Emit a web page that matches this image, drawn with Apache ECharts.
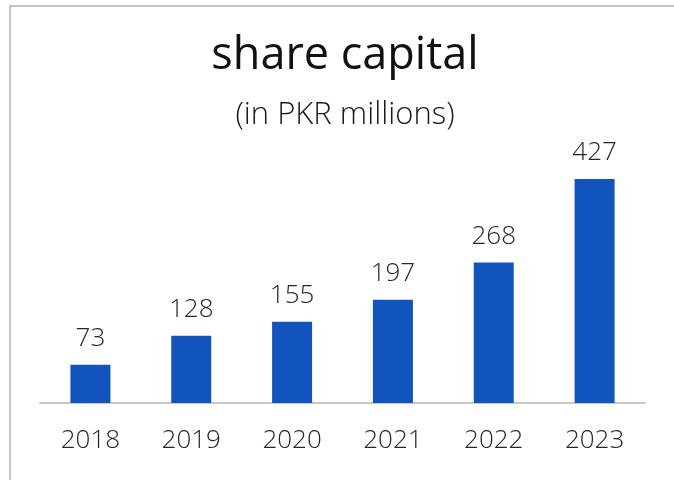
<!DOCTYPE html>
<html>
<head>
<meta charset="utf-8">
<script src="https://cdn.jsdelivr.net/npm/echarts@6/dist/echarts.min.js"></script>
<style>
  html, body { margin: 0; padding: 0; background: #fff; }
  #chart { width: 674px; height: 480px; }
</style>
</head>
<body>
<div id="chart"></div>
<script>
// data
const years = ['2018', '2019', '2020', '2021', '2022', '2023']
const shareCapital = [73, 128, 155, 197, 268, 427]

const chart = echarts.init(document.getElementById('chart'))

const option = {
  animation: false,
  textStyle: { fontFamily: 'Open Sans' },
  title: [
    {
      text: 'share capital',
      left: 340,
      top: 29,
      textAlign: 'center',
      textStyle: { fontSize: 45, fontWeight: 'normal', color: '#111', fontFamily: 'Open Sans' }
    },
    {
      text: '(in PKR millions)',
      left: 340,
      top: 95,
      textAlign: 'center',
      textStyle: { fontSize: 31, fontWeight: 300, color: '#1a1a1a', fontFamily: 'Open Sans' }
    }
  ],
  // frame lines on top and left
  graphic: [
    { type: 'rect', shape: { x: 9, y: 5, width: 665, height: 2 }, style: { fill: '#c4c4c4' } },
    { type: 'rect', shape: { x: 9, y: 5, width: 2, height: 475 }, style: { fill: '#c4c4c4' } }
  ],
  grid: {
    left: 40,
    right: 29,
    top: 140.7,
    bottom: 77
  },
  xAxis: {
    type: 'category',
    data: years,
    axisLine: { lineStyle: { color: '#c8c8c8', width: 2 } },
    axisTick: { show: false },
    axisLabel: { color: '#262626', fontSize: 26, fontWeight: 300, margin: 25, fontFamily: 'Open Sans' }
  },
  yAxis: {
    type: 'value',
    min: 0,
    max: 500,
    show: false,
    splitLine: { show: false }
  },
  series: [
    {
      type: 'bar',
      data: shareCapital,
      barWidth: 40,
      itemStyle: { color: '#1154bd' },
      label: {
        show: true,
        position: 'top',
        distance: 13,
        color: '#262626',
        fontSize: 26,
        fontWeight: 300,
        fontFamily: 'Open Sans'
      }
    }
  ]
}

chart.setOption(option)
</script>
</body>
</html>
